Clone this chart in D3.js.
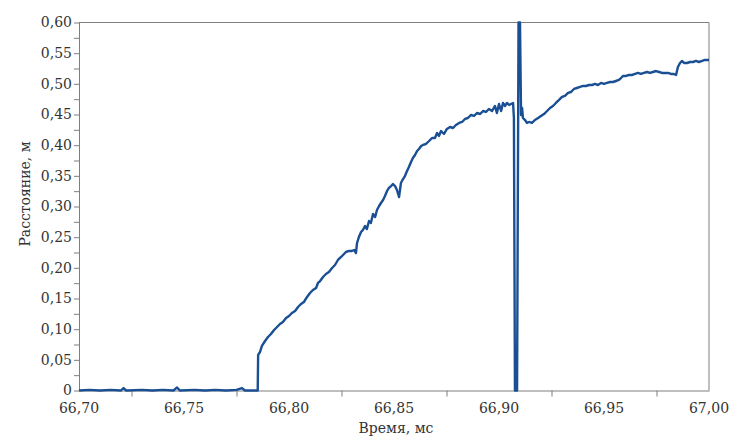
<!DOCTYPE html>
<html><head><meta charset="utf-8">
<script src="https://cdn.jsdelivr.net/npm/d3@7"></script>
<style>
html,body{margin:0;padding:0;background:#fff;}
text{font-family:"DejaVu Serif",serif;fill:#333;}
</style></head>
<body><svg id="c" width="749" height="446"></svg>
<script>
const timeMs = [66.700,66.705,66.710,66.715,66.720,66.7212,66.7225,66.730,66.735,66.740,66.745,66.7467,66.748,66.755,66.760,66.765,66.770,66.775,66.7776,66.779,66.7845,66.7851,66.7853,
66.7862,66.7871,66.7886,66.7900,66.7914,66.7929,66.7943,66.7957,66.7971,66.7986,66.8000,66.8014,66.8029,66.8043,66.8057,66.8071,66.8086,66.8100,66.8114,66.8129,66.8138,66.8148,66.8162,66.8176,66.8190,66.8205,66.8219,66.8233,66.8248,66.8262,66.8271,66.8286,66.8300,66.8310,66.8319,66.8324,66.8333,66.8343,66.8352,66.8362,66.8371,66.8381,66.8390,66.8400,66.8410,66.8419,66.8429,66.8438,66.8448,66.8457,66.8467,66.8476,66.8486,66.8495,66.8505,66.8514,66.8524,66.8533,66.8543,66.8552,66.8562,66.8571,66.8581,66.8590,66.8600,66.8610,66.8619,66.8629,66.8638,66.8652,66.8667,66.8681,66.8695,66.8705,66.8714,66.8724,66.8738,66.8752,66.8767,66.8781,66.8795,66.8810,66.8824,66.8838,66.8852,66.8867,66.8881,66.8895,66.8910,66.8924,66.8938,66.8952,66.8967,66.8981,66.8990,66.9000,66.9010,66.9019,66.9029,66.9038,66.9048,66.9057,66.9067,66.9071,66.9076,66.9086,66.9093,66.9100,66.9105,66.9110,66.9114,66.9124,66.9133,66.9143,66.9157,66.9171,66.9186,66.9200,66.9214,66.9229,66.9243,66.9257,66.9271,66.9286,66.9300,66.9314,66.9329,66.9343,66.9357,66.9371,66.9386,66.9400,66.9414,66.9429,66.9443,66.9457,66.9471,66.9486,66.9500,66.9514,66.9529,66.9543,66.9557,66.9571,66.9581,66.9590,66.9605,66.9619,66.9633,66.9648,66.9662,66.9676,66.9690,66.9705,66.9719,66.9733,66.9748,66.9762,66.9776,66.9790,66.9805,66.9819,66.9833,66.9843,66.9852,66.9862,66.9871,66.9881,66.9895,66.9910,66.9924,66.9938,66.9952,66.9967,66.9981,67.0000];
const distanceM = [0,0.001,0,0.001,0,0.004,0,0.001,0,0.001,0,0.005,0,0.001,0,0.001,0,0.001,0.004,0,0,0,0.058,
0.0628,0.0726,0.0807,0.0872,0.0921,0.0986,0.1035,0.1084,0.1117,0.1182,0.1215,0.1264,0.1296,0.1361,0.1410,0.1443,0.1525,0.1590,0.1639,0.1672,0.1753,0.1785,0.1851,0.1900,0.1932,0.1997,0.2046,0.2128,0.2177,0.2226,0.2258,0.2275,0.2275,0.2291,0.2242,0.2405,0.2503,0.2584,0.2617,0.2682,0.2633,0.2764,0.2731,0.2878,0.2829,0.2943,0.3008,0.3057,0.3106,0.3171,0.3253,0.3302,0.3334,0.3367,0.3334,0.3269,0.3155,0.3383,0.3448,0.3497,0.3579,0.3644,0.3726,0.3791,0.3840,0.3905,0.3938,0.3987,0.4003,0.4019,0.4068,0.4117,0.4117,0.4198,0.4150,0.4231,0.4182,0.4264,0.4296,0.4280,0.4329,0.4362,0.4378,0.4427,0.4443,0.4492,0.4476,0.4525,0.4508,0.4557,0.4541,0.4590,0.4557,0.4639,0.4525,0.4671,0.4557,0.4688,0.4639,0.4688,0.4655,0.4671,0.4688,0.4443,0,0,0.60,0.60,0.4492,0.4606,0.4443,0.4410,0.4362,0.4378,0.4362,0.4410,0.4443,0.4476,0.4508,0.4557,0.4606,0.4639,0.4688,0.4737,0.4786,0.4802,0.4851,0.4867,0.4916,0.4932,0.4949,0.4965,0.4965,0.4981,0.4981,0.4998,0.4981,0.5014,0.4998,0.5014,0.5030,0.5030,0.5046,0.5063,0.5095,0.5128,0.5128,0.5144,0.5144,0.5161,0.5177,0.5161,0.5177,0.5193,0.5177,0.5193,0.5209,0.5193,0.5177,0.5177,0.5177,0.5161,0.5161,0.5144,0.5275,0.5340,0.5373,0.5340,0.5340,0.5356,0.5356,0.5373,0.5356,0.5373,0.5389,0.5389];
const xTickValues = [66.70,66.75,66.80,66.85,66.90,66.95,67.00];
const xTickLabels = ["66,70","66,75","66,80","66,85","66,90","66,95","67,00"];
const yTickValues = [0,0.05,0.10,0.15,0.20,0.25,0.30,0.35,0.40,0.45,0.50,0.55,0.60];
const yTickLabels = ["0","0,05","0,10","0,15","0,20","0,25","0,30","0,35","0,40","0,45","0,50","0,55","0,60"];
const xTitle = "Время, мс";
const yTitle = "Расстояние, м";

const L=79,R=709,T=22.5,B=390.5;
const svg=d3.select("#c");
const x=d3.scaleLinear().domain([66.70,67.00]).range([L,R]);
const y=d3.scaleLinear().domain([0,0.60]).range([B,T]);
const axisCol="#7f7f7f";

// frame
svg.append("line").attr("x1",L).attr("x2",R).attr("y1",T).attr("y2",T).attr("stroke",axisCol);
svg.append("line").attr("x1",R).attr("x2",R).attr("y1",T).attr("y2",B).attr("stroke",axisCol);

// x axis: minor ticks only
const xMinor = xTickValues.slice(0,-1).map(v=>v+0.025);
const gx=svg.append("g").attr("transform",`translate(0,${B})`)
  .call(d3.axisBottom(x).tickValues(xMinor).tickSize(6).tickSizeOuter(0).tickFormat(""));
gx.select(".domain").attr("stroke",axisCol);
gx.selectAll(".tick line").attr("stroke",axisCol);
svg.append("g").selectAll("text").data(xTickValues).join("text")
  .attr("x",d=>x(d)).attr("y",B+22).attr("text-anchor","middle")
  .attr("font-size",14).text((d,i)=>xTickLabels[i]);

// y axis: major + minor ticks
const yAll=[];
yTickValues.forEach((v,i)=>{yAll.push(v); if(i<yTickValues.length-1) yAll.push(v+0.025);});
const gy=svg.append("g").attr("transform",`translate(${L},0)`)
  .call(d3.axisLeft(y).tickValues(yAll).tickSize(5).tickSizeOuter(0).tickFormat(""));
gy.select(".domain").attr("stroke",axisCol);
gy.selectAll(".tick line").attr("stroke",axisCol);
svg.append("g").selectAll("text").data(yTickValues).join("text")
  .attr("x",L-7).attr("y",d=>y(d)).attr("dy","0.35em").attr("text-anchor","end")
  .attr("font-size",14).text((d,i)=>yTickLabels[i]);

// titles
svg.append("text").attr("x",396).attr("y",433).attr("text-anchor","middle").attr("font-size",14).text(xTitle);
svg.append("text").attr("transform","translate(30,194) rotate(-90)").attr("text-anchor","middle").attr("font-size",14).text(yTitle);

// line
const data=timeMs.map((t,i)=>[t,distanceM[i]]);
svg.append("path").datum(data)
  .attr("fill","none").attr("stroke","#1a4f93").attr("stroke-width",2.4).attr("stroke-linejoin","round")
  .attr("d",d3.line().x(d=>x(d[0])).y(d=>y(d[1])));
</script></body></html>
